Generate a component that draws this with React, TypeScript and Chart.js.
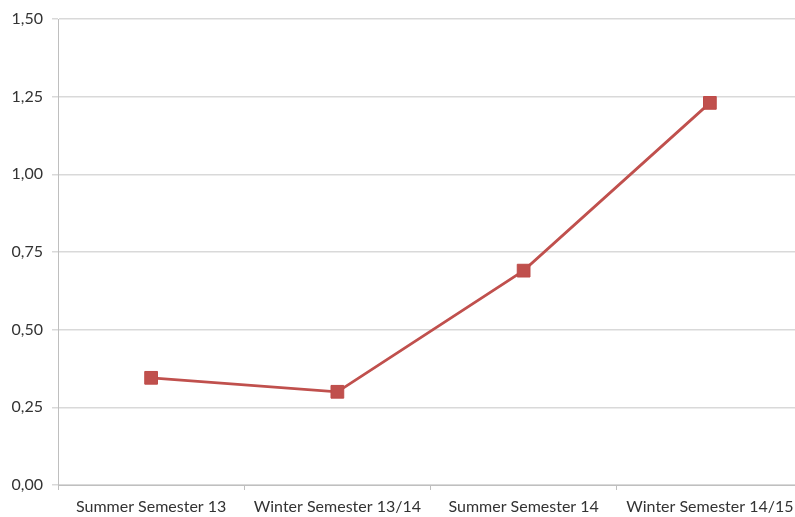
import React, { useEffect, useRef } from "react";
import { Chart, registerables } from "chart.js";

Chart.register(...registerables);

const categories = ["Summer Semester 13", "Winter Semester 13/14", "Summer Semester 14", "Winter Semester 14/15"];
const values = [0.345, 0.3, 0.69, 1.23];
const yTicks = [0, 0.25, 0.5, 0.75, 1.0, 1.25, 1.5];

export default function App() {
  const ref = useRef<HTMLCanvasElement | null>(null);
  useEffect(() => {
    if (!ref.current) return;
    const chart = new Chart(ref.current, {
      type: "line",
      data: {
        labels: categories,
        datasets: [
          {
            data: values,
            borderColor: "#C0504D",
            backgroundColor: "#C0504D",
            borderWidth: 2.8,
            pointStyle: "rect",
            pointRadius: 9,
            pointBorderWidth: 1,
            pointBorderColor: "#BE4B48",
            pointBackgroundColor: "#C0504D",
            tension: 0,
          },
        ],
      },
      options: {
        responsive: false,
        animation: false,
        layout: { padding: { top: 19, right: 3, left: 0, bottom: 0 } },
        plugins: { legend: { display: false }, tooltip: { enabled: false } },
        scales: {
          x: {
            offset: true,
            grid: {
              offset: true,
              drawOnChartArea: false,
              drawTicks: true,
              tickLength: 5,
              color: "#BFBFBF",
            },
            border: { display: true, color: "#BFBFBF", width: 1 },
            ticks: {
              color: "#333333",
              font: { family: "Lato", size: 16 },
              padding: 7,
              maxRotation: 0,
              autoSkip: false,
            },
            afterFit: (s: any) => {
              s.height = 32;
            },
          },
          y: {
            min: 0,
            max: 1.5,
            afterBuildTicks: (s: any) => {
              s.ticks = yTicks.map((v) => ({ value: v }));
            },
            grid: { color: "#D9D9D9", lineWidth: 1.5, tickLength: 6, drawTicks: true },
            border: { display: true, color: "#BFBFBF", width: 1 },
            ticks: {
              color: "#333333",
              font: { family: "Lato", size: 16 },
              padding: 9,
              callback: (v: any) => Number(v).toFixed(2).replace(".", ","),
            },
            afterFit: (s: any) => {
              s.width = 58;
            },
          },
        },
      },
    });
    return () => chart.destroy();
  }, []);
  return (
    <div style={{ position: "absolute", left: 0, top: 0, width: 795, height: 517, overflow: "hidden", background: "#fff" }}>
      <canvas ref={ref} width={813} height={517} style={{ display: "block" }} />
    </div>
  );
}
